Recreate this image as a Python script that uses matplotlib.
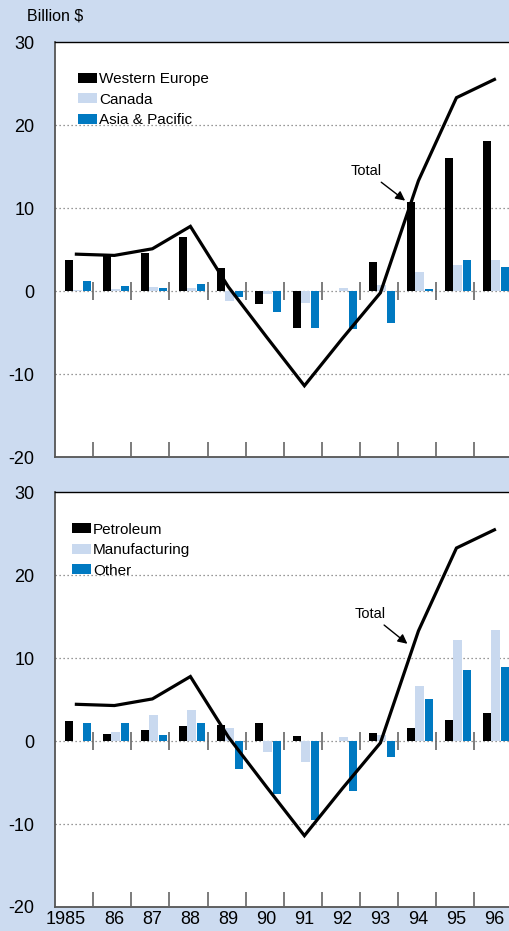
import matplotlib
matplotlib.use('Agg')
import matplotlib.pyplot as plt
from matplotlib.patches import Patch
import numpy as np

plt.rcParams['font.family'] = ['Liberation Sans', 'DejaVu Sans']
plt.rcParams['axes.unicode_minus'] = False

# data, billion $
years = ['1985', '86', '87', '88', '89', '90', '91', '92', '93', '94', '95', '96']
total = [4.45, 4.3, 5.1, 7.8, 0.5, -5.5, -11.4, -5.7, -0.2, 13.3, 23.3, 25.5]

w_europe = [3.7, 4.2, 4.6, 6.5, 2.8, -1.5, -4.4, 0.0, 3.5, 10.7, 16.0, 18.1]
canada = [0.1, 0.2, 0.5, 0.4, -1.2, -0.3, -1.4, 0.4, 0.7, 2.3, 3.2, 3.7]
asia_pac = [1.2, 0.6, 0.4, 0.8, -0.7, -2.5, -4.4, -4.6, -3.8, 0.2, 3.7, 2.9]

petroleum = [2.4, 0.9, 1.4, 1.8, 2.0, 2.2, 0.6, 0.0, 1.0, 1.6, 2.6, 3.35]
manufacturing = [0.0, 1.1, 3.1, 3.8, 1.6, -1.25, -2.5, 0.55, 0.7, 6.7, 12.2, 13.4]
other = [2.15, 2.2, 0.8, 2.2, -3.35, -6.4, -9.5, -6.0, -1.9, 5.1, 8.6, 8.9]

BG = '#ccdbf0'
LIGHT = '#c9d9ef'
BLUE = '#0079c1'

fig = plt.figure(figsize=(5.09, 9.31), dpi=100, facecolor=BG)
ax1 = fig.add_axes([0.109, 0.509, 0.896, 0.4458])
ax2 = fig.add_axes([0.109, 0.0258, 0.896, 0.4452])

x = np.arange(len(years))

def panel(ax, series, names, txt_xy, tip_xy, leg_x):
    ax.set_facecolor('white')
    for v in [20, 10, 0, -10]:
        ax.axhline(v, color='#777777', lw=0.9, ls=(0, (1, 2.2)), zorder=1)
    bw = 0.22
    cols = ['black', LIGHT, BLUE]
    offs = [-0.14, 0.08, 0.335]
    for s, c, o in zip(series, cols, offs):
        ax.bar(x + o, s, bw, color=c, zorder=2)
    ax.plot(x + 0.05, total, color='black', lw=2.3, zorder=4, solid_joinstyle='miter')
    # separators between years
    sep = x[:-1] + 0.5
    ax.vlines(sep, -20, -18.2, color='#666666', lw=1.2, zorder=3)
    ax.vlines(sep, -1.1, 1.1, color='#666666', lw=1.2, zorder=3)
    ax.set_xlim(-0.5, 11.5)
    ax.set_ylim(-20, 30)
    ax.set_yticks([30, 20, 10, 0, -10, -20])
    ax.tick_params(axis='y', length=0, pad=15, labelsize=13)
    ax.set_xticks(x + 0.305)
    ax.set_xticklabels(years, ha='right')
    ax.tick_params(axis='x', length=0, pad=3, labelsize=13)
    for sp in ['left', 'bottom']:
        ax.spines[sp].set_color('#555555')
        ax.spines[sp].set_linewidth(1.3)
    ax.spines['top'].set_color('black')
    ax.spines['top'].set_linewidth(1.0)
    ax.spines['right'].set_visible(False)
    handles = [Patch(facecolor=c, edgecolor='none') for c in cols]
    ax.legend(handles, names, loc='upper left', bbox_to_anchor=(leg_x, 0.927),
              frameon=False, fontsize=11, handlelength=1.2, handleheight=0.62,
              handletextpad=0.15, labelspacing=0.42, borderpad=0, borderaxespad=0)
    ax.annotate('Total', xy=tip_xy, xytext=txt_xy, fontsize=10.5, ha='center', va='center',
                arrowprops=dict(arrowstyle='-|>', color='black', lw=1.0,
                                mutation_scale=14, shrinkA=2, shrinkB=0), zorder=5)

panel(ax1, [w_europe, canada, asia_pac], ['Western Europe', 'Canada', 'Asia & Pacific'],
      (7.68, 14.5), (8.70, 10.9), 0.05)
panel(ax2, [petroleum, manufacturing, other], ['Petroleum', 'Manufacturing', 'Other'],
      (7.77, 15.4), (8.76, 11.75), 0.037)
ax1.set_xticklabels([])

fig.text(27 / 509, 1 - 16 / 931, 'Billion $', fontsize=11.5, ha='left', va='center')

fig.savefig('out.png', dpi=100, facecolor=BG)
